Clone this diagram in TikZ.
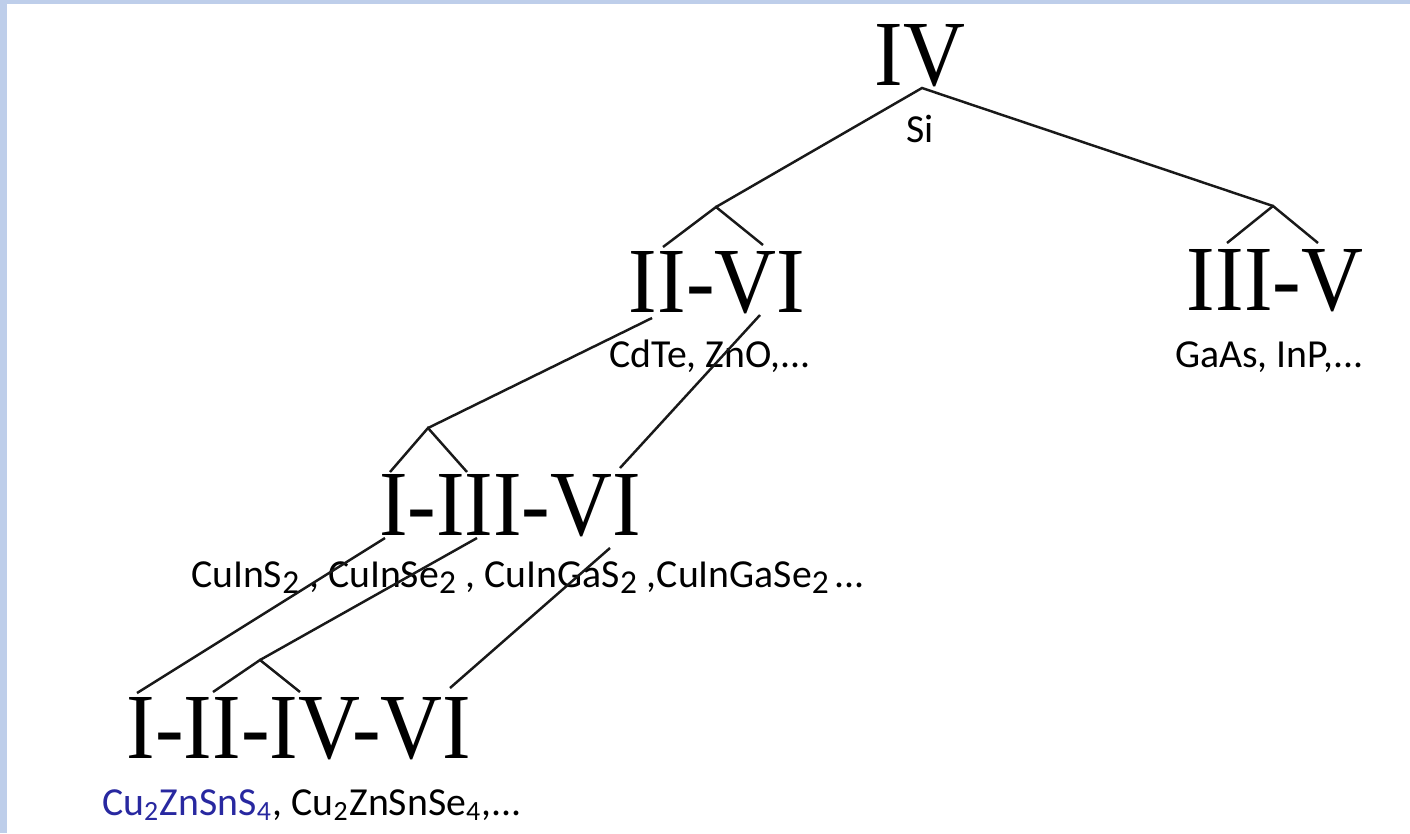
\documentclass[tikz,border=0pt]{standalone}
\usepackage{fontspec}
\usepackage{graphicx}
\setmainfont{Liberation Serif}
\newfontfamily\compoundfont{Carlito}
\usetikzlibrary{positioning}
\definecolor{framecolor}{RGB}{190,206,234}
\definecolor{linecolor}{RGB}{25,25,25}
\definecolor{kesteritecolor}{RGB}{40,40,160}
\newcommand{\narrowgroup}[1]{\scalebox{0.92}[1]{#1}}
\newcommand{\chemsub}[1]{\raisebox{-0.35ex}{\fontsize{9.5}{10}\selectfont #1}}

\begin{document}
\begin{tikzpicture}[
    % Coordenadas em pixels da figura (y para baixo)
    x=0.01cm, y=-0.01cm,
    % Estilo para os grupos (numerais romanos)
    groupbase/.style={
        font=\fontsize{26.5}{30}\selectfont,
        inner sep=0pt,
        anchor=base
    },
    % Estilo para os compostos
    compoundbase/.style={
        font=\compoundfont\fontsize{11.3}{13}\selectfont,
        inner sep=0pt,
        anchor=base
    },
    % Estilo para as ligacoes
    branch/.style={
        line width=0.7pt,
        draw=linecolor
    },
]

% ============================================================================
% Fundo e moldura
% ============================================================================
\fill[framecolor] (0,0) rectangle (1410,833);
\fill[white] (7,4) rectangle (1410,833);

% ============================================================================
% Grupos e compostos
% ============================================================================

% IV
\node[groupbase] (iv) at (920,85) {\narrowgroup{IV}};
\node[compoundbase] (ivcomp) at (920,142) {Si};

% II-VI
\node[groupbase] (iivi) at (717,312) {\narrowgroup{II-VI}};
\node[compoundbase] (iivicomp) at (710,367) {CdTe, ZnO,...};

% III-V
\node[groupbase] (iiiv) at (1275,310) {\narrowgroup{III-V}};
\node[compoundbase] (iiivcomp) at (1269,367) {GaAs, InP,...};

% I-III-VI
\node[groupbase] (iiiivi) at (510,535) {\narrowgroup{I-III-VI}};
\node[compoundbase] (iiiivicomp) at (528,587) {CuInS\chemsub{2}\hspace{0.25em}, CuInSe\chemsub{2}\hspace{0.25em}, CuInGaS\chemsub{2}\hspace{0.25em},CuInGaSe\chemsub{2}\hspace{0.15em}...};

% I-II-IV-VI
\node[groupbase] (iiiivvi) at (299,758) {\narrowgroup{I-II-IV-VI}};
\node[compoundbase] (iiiivvicomp) at (312,815) {\textcolor{kesteritecolor}{Cu\textsubscript{2}ZnSnS\textsubscript{4}}, Cu\textsubscript{2}ZnSnSe\textsubscript{4},...};

% ============================================================================
% Pontos de ligacao
% ============================================================================
\coordinate (ivfork) at (922,88);
\coordinate (iivifork) at (716,207);
\coordinate (iivilegl) at (663,247);
\coordinate (iivilegr) at (763,245);
\coordinate (iiivfork) at (1273,206);
\coordinate (iiivlegl) at (1227,243);
\coordinate (iiivlegr) at (1318,243);

\coordinate (iivifootl) at (652,318);
\coordinate (iivifootr) at (760,315);
\coordinate (iiiivifork) at (428,428);
\coordinate (iiiivilegl) at (390,472);
\coordinate (iiiivilegr) at (467,472);
\coordinate (iiiivitail) at (620,468);

\coordinate (iiiivifootl) at (385,538);
\coordinate (iiiivifootm) at (477,538);
\coordinate (iiiivifootr) at (610,548);
\coordinate (iiiivvitail) at (137,693);
\coordinate (iiiivvifork) at (260,660);
\coordinate (iiiivvilegl) at (213,692);
\coordinate (iiiivvilegr) at (300,692);
\coordinate (iiiivvitailr) at (450,688);

% ============================================================================
% Ligacoes
% ============================================================================

% IV para II-VI e III-V
\draw[branch] (iivifork) -- (ivfork) -- (iiivfork);
\draw[branch] (iivilegl) -- (iivifork) -- (iivilegr);
\draw[branch] (iiivlegl) -- (iiivfork) -- (iiivlegr);

% II-VI para I-III-VI
\draw[branch] (iivifootl) -- (iiiivifork);
\draw[branch] (iiiivilegl) -- (iiiivifork) -- (iiiivilegr);
\draw[branch] (iivifootr) -- (iiiivitail);

% I-III-VI para I-II-IV-VI
\draw[branch] (iiiivifootl) -- (iiiivvitail);
\draw[branch] (iiiivifootm) -- (iiiivvifork);
\draw[branch] (iiiivvilegl) -- (iiiivvifork) -- (iiiivvilegr);
\draw[branch] (iiiivifootr) -- (iiiivvitailr);

\end{tikzpicture}
\end{document}
